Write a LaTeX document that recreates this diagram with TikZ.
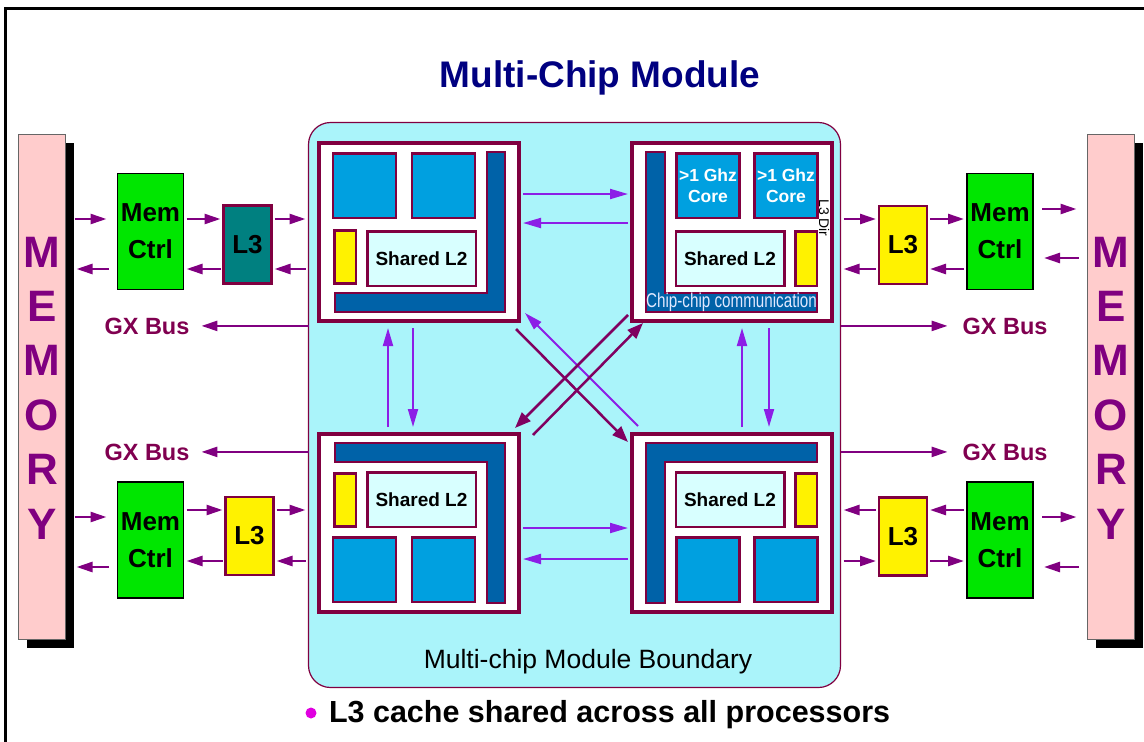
\documentclass[tikz,border=0pt]{standalone}
\usepackage{fontspec}
\setmainfont{Liberation Sans}
\newfontfamily\narrowfont[FakeStretch=0.76]{Liberation Sans}
\usetikzlibrary{arrows.meta,calc,shadows}

\definecolor{mcmaroon}{RGB}{128,0,64}
\definecolor{mcnavy}{RGB}{0,0,128}
\definecolor{corefill}{RGB}{0,160,224}
\definecolor{barfill}{RGB}{0,98,168}
\definecolor{ltwofill}{RGB}{216,255,255}
\definecolor{modfill}{RGB}{170,244,250}
\definecolor{ctrlgreen}{RGB}{0,230,0}
\definecolor{lthreeteal}{RGB}{0,128,128}
\definecolor{mempink}{RGB}{255,204,204}
\definecolor{mempurple}{RGB}{128,0,128}
\definecolor{gxtext}{RGB}{128,0,80}
\definecolor{inviolet}{RGB}{140,30,230}
\definecolor{xdark}{RGB}{128,0,96}
\definecolor{bulletmag}{RGB}{224,0,224}
\definecolor{commtext}{RGB}{225,232,255}

\begin{document}
\begin{tikzpicture}[x=1pt, y=-1pt,
    every node/.append style={outer sep=0pt},
    chip/.style={draw=mcmaroon, line width=4pt, fill=white, minimum width=200pt, minimum height=178pt, inner sep=0pt},
    core/.style={draw=mcmaroon, line width=2.5pt, fill=corefill, minimum width=63pt, minimum height=64.5pt, inner sep=0pt, align=center, text=white, font=\bfseries\fontsize{17.5}{21}\selectfont},
    ltwo/.style={draw=mcmaroon, line width=2.5pt, fill=ltwofill, minimum width=108.5pt, minimum height=54.5pt, inner sep=0pt, font=\bfseries\fontsize{19}{22}\selectfont},
    ydir/.style={draw=mcmaroon, line width=2.5pt, fill=yellow, minimum width=21.5pt, minimum height=53pt, inner sep=0pt},
    lbar/.style={draw=mcmaroon, line width=2.5pt, fill=barfill},
    memctrl/.style={draw=black, line width=1.5pt, fill=ctrlgreen, minimum width=66pt, minimum height=116pt, inner sep=0pt, align=center, font=\bfseries\fontsize{26}{37}\selectfont},
    lthree/.style={draw=mcmaroon, line width=2.5pt, minimum width=48pt, minimum height=78pt, inner sep=0pt, font=\bfseries\fontsize{26}{30}\selectfont},
    membar/.style={draw=black!60, line width=1pt, fill=mempink, minimum width=47pt, minimum height=505pt,
        drop shadow={shadow xshift=8pt, shadow yshift=-8pt, fill=black, opacity=1}},
    memletter/.style={text=mempurple, inner sep=0pt, font=\bfseries\fontsize{44}{44}\selectfont},
    gxlabel/.style={text=gxtext, inner sep=0pt, font=\bfseries\fontsize{23.5}{26}\selectfont},
    arr/.style={draw=mempurple, line width=2.5pt, -{Triangle[length=16pt, width=10pt]}},
    inarr/.style={draw=inviolet, line width=2pt, -{Triangle[length=18pt, width=10pt]}},
    xarr/.style={draw=xdark, line width=2.5pt, -{Triangle[length=16pt, width=12pt]}},
    memgap/.style={shorten <=9pt, shorten >=11pt},
    ctgap/.style={shorten <=3pt, shorten >=3pt},
    ingap/.style={shorten <=4pt, shorten >=4pt},
    vgap/.style={shorten <=7pt, shorten >=7pt},
]
\useasboundingbox (0,0) rectangle (1144,742);

% Frame
\draw[line width=3pt] (5.5,742) -- (5.5,8.5) -- (1144,8.5);

% Title
\node[anchor=base, inner sep=0pt, text=mcnavy, font=\bfseries\fontsize{37}{40}\selectfont] (title) at (600,87) {Multi-Chip Module};

% Rows and columns for the connectors
\coordinate (rA) at (0,219);
\coordinate (rB) at (0,269);
\coordinate (rC) at (0,510);
\coordinate (rD) at (0,561);
\coordinate (rE) at (0,517);
\coordinate (rF) at (0,567);
\coordinate (rG) at (0,209);
\coordinate (rH) at (0,258);
\coordinate (rT1) at (0,194);
\coordinate (rT2) at (0,223);
\coordinate (rB1) at (0,528);
\coordinate (rB2) at (0,559);
\coordinate (cU1) at (388,0);
\coordinate (cD1) at (413,0);
\coordinate (cU2) at (742,0);
\coordinate (cD2) at (769,0);

% Memory bars
\node[membar] (memL) at (42,387) {};
\node[membar] (memR) at (1111,387) {};
\foreach \c [count=\i from 0] in {M,E,M,O,R,Y} {
    \node[memletter, anchor=base] (memL\i) at (42,267+54.4*\i) {\c};
    \node[memletter, anchor=base] (memR\i) at (1111,267+54.4*\i) {\c};
}

% Memory controllers
\node[memctrl] (mcLa) at (150.5,231.5) {Mem\\Ctrl};
\node[memctrl] (mcLb) at (150.5,540) {Mem\\Ctrl};
\node[memctrl] (mcRa) at (1000,231.5) {Mem\\Ctrl};
\node[memctrl] (mcRb) at (1000,540) {Mem\\Ctrl};

% L3 caches
\node[lthree, fill=lthreeteal] (l3La) at (247.5,244.5) {L3};
\node[lthree, fill=yellow] (l3Lb) at (249.5,536) {L3};
\node[lthree, fill=yellow] (l3Ra) at (903,245) {L3};
\node[lthree, fill=yellow] (l3Rb) at (903,536.5) {L3};

% GX Bus labels
\node[gxlabel, anchor=base] (gxLa) at (147,334) {GX Bus};
\node[gxlabel, anchor=base] (gxLb) at (147,460) {GX Bus};
\node[gxlabel, anchor=base] (gxRa) at (1005,334) {GX Bus};
\node[gxlabel, anchor=base] (gxRb) at (1005,460) {GX Bus};

% Module boundary
\node[draw=mcmaroon, line width=1.2pt, fill=modfill, rounded corners=22pt, minimum width=532pt, minimum height=565pt] (module) at (574.5,405) {};
\node[anchor=base, inner sep=0pt, font=\fontsize{26.5}{30}\selectfont] (mcmlabel) at (588,668) {Multi-chip Module Boundary};

% Chips
\node[chip] (tl) at (419,232) {};
\node[chip] (tr) at (732,232) {};
\node[chip] (bl) at (419,523) {};
\node[chip] (br) at (732,523) {};

% Chip TL
\filldraw[lbar] (487,152) -- (505,152) -- (505,312) -- (335,312) -- (335,293) -- (487,293) -- cycle;
\node[core] (tlCa) at (364.5,185.5) {};
\node[core] (tlCb) at (443.5,185.5) {};
\node[ydir] (tlY) at (345,257) {};
\node[ltwo] (tlL) at (421.5,258.5) {Shared L2};

% Chip TR
\filldraw[lbar] (646,152) -- (665,152) -- (665,293) -- (817,293) -- (817,312) -- (646,312) -- cycle;
\node[core] (trCa) at (708,185.5) {>1 Ghz\\Core};
\node[core] (trCb) at (786,185.5) {>1 Ghz\\Core};
\node[ltwo] (trL) at (730,258.5) {Shared L2};
\node[ydir, minimum height=54.5pt] (trY) at (806,258.5) {};
\node[inner sep=0pt, text=commtext, font=\narrowfont\fontsize{20}{22}\selectfont] (comm) at (731.5,302.5) {Chip-chip communication};
\node[rotate=-90, inner sep=0pt, font=\fontsize{14}{16}\selectfont] (ldir) at (824,218) {L3 Dir};

% Chip BL
\filldraw[lbar] (335,443) -- (505,443) -- (505,603) -- (487,603) -- (487,462) -- (335,462) -- cycle;
\node[core] (blCa) at (364.5,569.5) {};
\node[core] (blCb) at (443.5,569.5) {};
\node[ydir] (blY) at (345,500) {};
\node[ltwo] (blL) at (421.5,499.5) {Shared L2};

% Chip BR
\filldraw[lbar] (646,603) -- (665,603) -- (665,462) -- (817,462) -- (817,443) -- (646,443) -- cycle;
\node[core] (brCa) at (708,569.5) {};
\node[core] (brCb) at (786,569.5) {};
\node[ltwo] (brL) at (730,499.5) {Shared L2};
\node[ydir] (brY) at (806,500) {};

% Memory <-> Mem Ctrl
\draw[arr, memgap] (memL.east |- rA) -- (mcLa.west |- rA);
\draw[arr, memgap] (mcLa.west |- rB) -- (memL.east |- rB);
\draw[arr, memgap] (memL.east |- rE) -- (mcLb.west |- rE);
\draw[arr, memgap] (mcLb.west |- rF) -- (memL.east |- rF);
\draw[arr, memgap] (mcRa.east |- rG) -- (memR.west |- rG);
\draw[arr, memgap] (memR.west |- rH) -- (mcRa.east |- rH);
\draw[arr, memgap] (mcRb.east |- rE) -- (memR.west |- rE);
\draw[arr, memgap] (memR.west |- rF) -- (mcRb.east |- rF);

% Mem Ctrl <-> L3
\draw[arr, ctgap] (mcLa.east |- rA) -- (l3La.west |- rA);
\draw[arr, ctgap] (l3La.west |- rB) -- (mcLa.east |- rB);
\draw[arr, ctgap] (mcLb.east |- rC) -- (l3Lb.west |- rC);
\draw[arr, ctgap] (l3Lb.west |- rD) -- (mcLb.east |- rD);
\draw[arr, ctgap] (l3Ra.east |- rA) -- (mcRa.west |- rA);
\draw[arr, ctgap] (mcRa.west |- rB) -- (l3Ra.east |- rB);
\draw[arr, ctgap] (mcRb.west |- rC) -- (l3Rb.east |- rC);
\draw[arr, ctgap] (l3Rb.east |- rD) -- (mcRb.west |- rD);

% L3 <-> module
\draw[arr, ctgap] (l3La.east |- rA) -- (module.west |- rA);
\draw[arr, ctgap] (module.west |- rB) -- (l3La.east |- rB);
\draw[arr, ctgap] (l3Lb.east |- rC) -- (module.west |- rC);
\draw[arr, ctgap] (module.west |- rD) -- (l3Lb.east |- rD);
\draw[arr, ctgap] (module.east |- rA) -- (l3Ra.west |- rA);
\draw[arr, ctgap] (l3Ra.west |- rB) -- (module.east |- rB);
\draw[arr, ctgap] (l3Rb.west |- rC) -- (module.east |- rC);
\draw[arr, ctgap] (module.east |- rD) -- (l3Rb.west |- rD);

% GX Bus
\draw[arr, shorten >=12pt] (module.west |- gxLa) -- (gxLa.east);
\draw[arr, shorten >=12pt] (module.west |- gxLb) -- (gxLb.east);
\draw[arr, shorten >=15pt] (module.east |- gxRa) -- (gxRa.west);
\draw[arr, shorten >=15pt] (module.east |- gxRb) -- (gxRb.west);

% Chip to chip
\draw[inarr, ingap] (tl.east |- rT1) -- (tr.west |- rT1);
\draw[inarr, ingap] (tr.west |- rT2) -- (tl.east |- rT2);
\draw[inarr, ingap] (bl.east |- rB1) -- (br.west |- rB1);
\draw[inarr, ingap] (br.west |- rB2) -- (bl.east |- rB2);
\draw[inarr, vgap] (bl.north -| cU1) -- (tl.south -| cU1);
\draw[inarr, vgap] (tl.south -| cD1) -- (bl.north -| cD1);
\draw[inarr, vgap] (br.north -| cU2) -- (tr.south -| cU2);
\draw[inarr, vgap] (tr.south -| cD2) -- (br.north -| cD2);

% Diagonals
\draw[xarr] ($(tl.south east)+(-3,8)$) -- ($(br.north west)+(-4,8)$);
\draw[inarr] ($(br.north west)+(6,-8)$) -- ($(tl.south east)+(6,-8)$);
\draw[xarr] ($(tr.south west)+(-4,-6)$) -- ($(bl.north east)+(-4,-6)$);
\draw[xarr] ($(bl.north east)+(14,1)$) -- ($(tr.south west)+(11,2)$);

% Note
\node[circle, fill=bulletmag, minimum size=11pt, inner sep=0pt] (dot) at (311,713) {};
\node[anchor=base west, inner sep=0pt, font=\bfseries\fontsize{30.5}{34}\selectfont] (note) at (329,722) {L3 cache shared across all processors};

\end{tikzpicture}
\end{document}
